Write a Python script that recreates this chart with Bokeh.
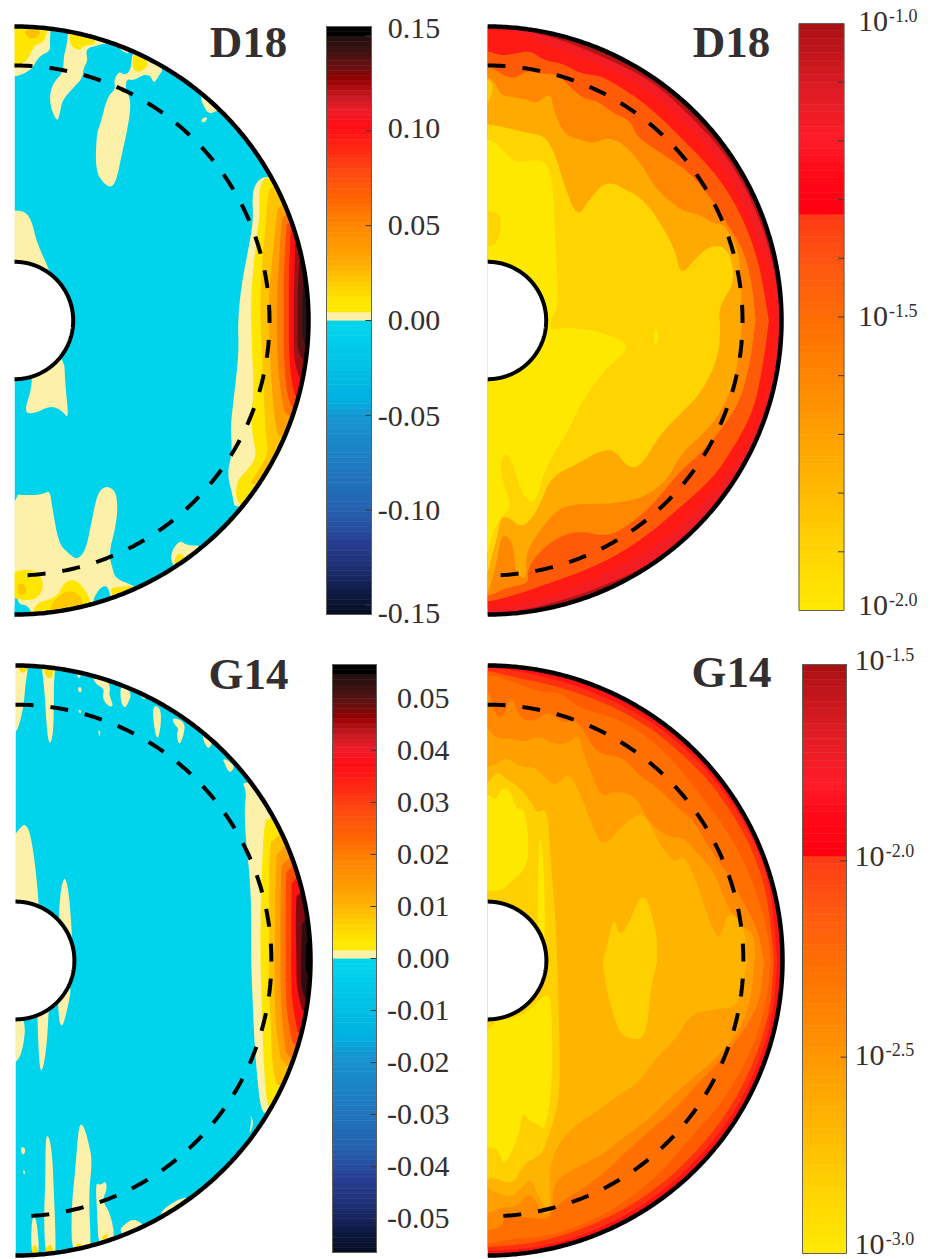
import numpy as np
from bokeh.embed import file_html
from bokeh.resources import INLINE
from bokeh.plotting import figure
from bokeh.layouts import row, column
from bokeh.models import Range1d
from bokeh.core.properties import value

# ---------------- tick labels ----------------
D18_RES_TICKS = [0.15, 0.10, 0.05, 0.00, -0.05, -0.10, -0.15]
D18_RES_LABELS = ["0.15", "0.10", "0.05", "0.00", "-0.05", "-0.10", "-0.15"]
D18_RES_NUDGE = [7, 2, 0, 0, -1, 0, -8]
G14_RES_TICKS = [0.05, 0.04, 0.03, 0.02, 0.01, 0.00, -0.01, -0.02, -0.03, -0.04, -0.05]
G14_RES_LABELS = ["0.05", "0.04", "0.03", "0.02", "0.01", "0.00", "-0.01", "-0.02", "-0.03", "-0.04", "-0.05"]
D18_LOG_MINOR = [-1.1, -1.2, -1.3, -1.4, -1.5, -1.6, -1.7, -1.8, -1.9]
D18_LOG_EXP = [-1.0, -1.5, -2.0]
D18_LOG_LABELS = ["-1.0", "-1.5", "-2.0"]
D18_LOG_NUDGE = [2, 1, 5]
G14_LOG_MINOR = [-2.0, -2.5]
G14_LOG_EXP = [-1.5, -2.0, -2.5, -3.0]
G14_LOG_LABELS = ["-1.5", "-2.0", "-2.5", "-3.0"]
G14_LOG_NUDGE = [4, 4, 2, 9]

# ---------------- colour scales (position, colour) ----------------
DIV_POS = [(0.03, "#ffe800"), (0.06, "#ffe800"), (0.125, "#ffce00"), (0.2, "#ffaa00"), (0.32, "#ff8800"),
           (0.41, "#ff6600"), (0.5, "#ff4a10"), (0.58, "#ff2a14"), (0.66, "#ff0c14"), (0.71, "#f01c28"),
           (0.76, "#c81c24"), (0.82, "#960000"), (0.86, "#6c1010"), (0.92, "#3c1212"), (0.965, "#241010"),
           (0.975, "#000000"), (1.0, "#000000")]
DIV_NEG = [(0.03, "#00d4ec"), (0.27, "#00b0e0"), (0.33, "#1696d2"), (0.51, "#2078bf"), (0.65, "#2560ae"),
           (0.75, "#283f94"), (0.85, "#1c2c70"), (0.92, "#101c48"), (1.0, "#050c22")]
LOG_MAP = [(0.0, "#ffea00"), (0.12, "#ffd000"), (0.24, "#ffb000"), (0.36, "#ff9000"), (0.485, "#ff7000"),
           (0.58, "#ff5a10"), (0.675, "#ff3a14"), (0.681, "#ff0010"), (0.75, "#ff0a18"), (0.8, "#ff1c28"),
           (0.885, "#e01c24"), (0.97, "#b81418"), (1.0, "#a80f12")]
CREAM = "#fdf0a8"
CYAN = "#00d4ec"
INK = "#332f30"
SERIF = "Liberation Serif"

# ---------------- contours ----------------
# Each shape: (colour, points in upper crop, points in lower crop), in 3x crop coordinates of the panel.
A_BLOBS = [
    (CREAM, [(42,40),(160,40),(150,90),(148,130),(150,150),(120,165),(105,185),(95,205),(60,225),(30,228)], []),
    ("#ffe600", [(30,50),(160,50),(140,90),(130,125),(100,135),(90,160),(75,185),(50,195),(30,195)], []),
    ("#ffc000", [(70,85),(125,90),(105,115),(80,112)], []),
    (CREAM, [(205,70),(198,140),(190,165),(188,215),(160,245),(148,280),(150,320),(170,365),(178,340),(185,300),(215,265),(245,235),(250,200),(262,180),(255,145),(290,135),(330,125),(310,80)], []),
    ("#ffe600", [(205,80),(210,140),(240,150),(250,135),(290,130),(270,95)], []),
    (CREAM, [(355,140),(385,150),(385,160),(365,152)], []),
    (CREAM, [(395,150),(392,205),(375,225),(355,212),(340,240),(345,265),(320,290),(300,370),(288,400),(285,510),(310,550),(335,562),(350,530),(362,470),(378,400),(390,330),(388,290),(375,268),(378,235),(400,240),(430,222),(450,225),(460,250),(475,225),(490,205),(450,150)], []),
    ("#ffe600", [(398,155),(395,210),(420,215),(445,195),(430,160)], []),
    (CREAM, [(595,280),(615,330),(630,340),(650,330),(690,320),(650,270)], []),
    (CREAM, [(600,362),(610,350),(622,352),(612,367)], []),
    (CREAM, [(42,630),(70,632),(92,655),(110,730),(150,815),(170,900),(30,900),(30,630)], []),
    (CREAM, [], [(95,100),(95,200),(70,275),(100,280),(150,255),(185,270),(205,297),(195,200),(190,100)]),
    (CREAM, [], [(30,520),(90,525),(130,520),(148,510),(155,560),(175,670),(205,700),(230,718),(255,690),(270,620),(290,520),(315,495),(345,510),(352,560),(345,620),(325,700),(335,740),(345,775),(400,795),(450,830),(420,920),(30,920)]),
    (CYAN, [], [(275,840),(300,800),(320,795),(330,825),(325,870),(285,880)]),
    (CYAN, [], [(30,855),(70,850),(90,865),(95,900),(30,900)]),
    ("#ffe600", [], [(30,755),(90,745),(120,765),(130,800),(110,835),(70,840),(30,830)]),
    ("#ffc800", [], [(48,790),(75,790),(80,820),(55,825)]),
    ("#ffe600", [], [(100,850),(170,830),(190,785),(225,775),(255,810),(270,840),(270,900),(100,900)]),
    ("#ffc800", [], [(150,850),(195,810),(230,815),(250,845),(240,900),(150,890)]),
    ("#ffe600", [], [(330,805),(345,800),(400,795),(420,810),(345,845),(335,825)]),
    (CREAM, [], [(520,680),(540,660),(560,675),(610,675),(560,760),(520,740),(510,710)]),
    ("#ffe600", [], [(520,720),(535,695),(555,710),(540,750),(525,735)]),
]
A_BAND = [
    (CREAM, [(800,525),(770,540),(755,580),(758,650),(752,700),(735,790),(722,860),(712,960)],
            [(715,100),(700,230),(690,320),(695,395),(680,460),(695,520),(705,575)]),
    ("#ffe600", [(800,530),(785,540),(775,580),(778,640),(770,700),(760,790),(752,880),(752,960)],
            [(755,100),(760,210),(752,290),(755,340),(770,410),(735,455),(710,480),(705,530),(725,560)]),
    ("#ffc400", [(810,545),(800,600),(795,680),(785,780),(780,880),(780,960)],
            [(785,120),(790,220),(795,340),(805,400),(760,470),(745,500)]),
    ("#ffa000", [(835,590),(825,680),(815,780),(805,880),(805,960)], [(808,100),(815,220),(825,320),(840,360)]),
    ("#ff7a00", [(850,620),(840,700),(835,800),(830,880),(830,960)], [(830,100),(840,220),(860,310)]),
    ("#ff4a00", [(860,645),(855,720),(850,820),(850,960)], [(850,100),(858,220),(880,280)]),
    ("#ff1010", [(872,660),(868,740),(865,830),(865,960)], [(865,100),(875,200),(890,240)]),
    ("#a01015", [(885,690),(882,800),(880,900),(880,960)], [(880,90),(885,140),(905,190)]),
    ("#5a1010", [(900,740),(892,850),(892,960)], [(890,90),(915,130)]),
    ("#2c1212", [(915,800),(905,880),(905,960)], [(905,50),(925,100)]),
]
B_LEVELS = [
    ("#f21c22", [(20,42),(110,46),(150,64),(250,90),(370,140),(480,192),(560,250),(640,327),(720,412),(800,537),(870,712),(905,930)],
                [(905,100),(875,300),(705,565),(606,664),(506,733),(406,780),(306,820),(206,850),(100,875),(20,885)]),
    ("#ff1a14", [(20,55),(110,62),(200,105),(300,140),(400,180),(500,240),(590,310),(680,410),(760,510),(830,670),(880,820),(890,930)],
                [(882,100),(855,270),(785,400),(705,510),(605,610),(505,690),(405,745),(305,790),(205,830),(100,855),(20,865)]),
    ("#ff5a08", [(20,120),(60,135),(100,130),(150,120),(190,150),(250,160),(300,190),(360,195),(420,230),(480,270),(540,320),(600,380),(660,440),(720,510),(770,590),(810,680),(840,780),(860,900),(865,930)],
                [(865,0),(850,120),(820,270),(760,380),(700,470),(600,560),(500,645),(400,710),(300,755),(200,790),(100,825),(20,845)]),
    ("#ff8800", [(20,160),(60,190),(100,205),(140,180),(180,190),(230,190),(270,230),(310,265),(350,270),(400,310),(450,330),(470,380),(530,420),(590,460),(630,490),(690,560),(740,640),(790,720),(815,820),(825,930)],
                [(825,0),(810,120),(780,240),(720,330),(660,400),(600,450),(520,550),(450,610),(380,650),(300,630),(230,650),(170,700),(140,750),(145,790),(80,800),(20,830)]),
    ("#ffaa00", [(20,195),(50,225),(60,255),(130,265),(170,280),(210,245),(220,300),(250,370),(290,385),(340,400),(380,380),(430,400),(490,470),(520,530),(600,600),(650,610),(700,640),(730,640),(775,720),(780,800),(785,930)],
                [(785,0),(775,120),(745,230),(690,320),(600,400),(560,480),(490,530),(400,550),(290,550),(230,565),(170,640),(135,700),(140,780),(105,760),(100,680),(80,645),(60,650),(50,720),(30,790),(20,830)]),
    ("#ffd400", [(20,340),(70,350),(130,365),(190,375),(220,420),(250,520),(290,625),(330,560),(380,510),(440,540),(480,560),(530,620),(585,720),(600,795),(640,750),(680,710),(730,705),(755,750),(760,820),(720,880),(715,930)],
                [(720,0),(715,110),(660,220),(600,280),(540,340),(480,440),(440,440),(400,385),(350,395),(300,425),(210,470),(180,550),(150,600),(120,620),(85,590),(60,590),(50,650),(35,700),(20,770)]),
    ("#ffe800", [(20,385),(50,400),(100,455),(150,450),(190,450),(215,490),(225,700),(235,885),(210,930)],
                [(210,30),(260,20),(340,30),(400,50),(440,70),(430,100),(370,150),(300,250),(260,340),(200,430),(170,530),(150,550),(120,510),(100,440),(80,395),(60,420),(65,480),(95,560),(60,590),(40,630),(25,680),(20,700)]),
]
B_SPOTS = [
    ("#ffd400", [(0,600),(55,605),(65,640),(50,700),(0,715)], []),
    ("#ffc800", [(0,200),(40,215),(30,270),(0,290)], []),
    ("#ffe800", [], [(525,15),(535,50),(525,80),(518,50)]),
]
C_BLOBS = [
    (CREAM, [(30,35),(85,35),(75,100),(70,160),(60,210),(48,245),(30,250)], []),
    ("#ffe000", [(50,35),(80,35),(80,60),(60,70)], []),
    (CREAM, [(122,40),(165,40),(160,100),(160,170),(158,250),(148,285),(140,250),(135,170),(130,100)], []),
    ("#ffe000", [(128,40),(160,40),(155,85),(135,80)], []),
    (CREAM, [(228,68),(245,65),(235,88)], []),
    (CREAM, [(232,110),(243,110),(243,125),(234,125)], []),
    (CREAM, [(275,75),(320,85),(330,115),(325,130),(340,170),(320,165),(305,140),(312,115),(285,100)], []),
    (CREAM, [(360,100),(395,125),(380,165),(370,172),(360,150)], []),
    (CREAM, [(232,178),(242,178),(240,192)], []),
    (CREAM, [(292,240),(300,240),(298,262)], []),
    (CREAM, [(455,165),(480,170),(482,220),(472,270),(462,240)], []),
    (CREAM, [(515,200),(555,215),(548,260),(535,285),(528,250),(535,235),(520,220)], []),
    (CREAM, [(605,250),(640,265),(625,298),(610,275)], []),
    (CREAM, [(665,320),(705,345),(688,370),(675,345)], []),
    (CREAM, [(415,130),(435,135),(432,150)], []),
    (CREAM, [(30,570),(60,530),(75,520),(90,550),(105,650),(115,760),(120,900),(30,900)], []),
    (CREAM, [(175,760),(190,670),(205,720),(215,860),(215,900),(175,900)], []),
    (CREAM, [], [(30,100),(75,215),(70,280),(55,330),(30,340)]),
    (CREAM, [], [(108,100),(148,100),(140,280),(125,370),(115,340)]),
    (CREAM, [], [(170,100),(215,100),(200,180),(185,232),(175,210)]),
    (CREAM, [], [(60,590),(72,590),(75,605),(65,615)]),
    (CREAM, [], [(66,660),(74,660),(72,675)]),
    (CREAM, [], [(135,560),(145,555),(155,610),(160,720),(165,850),(165,920),(135,920),(130,800),(135,680)]),
    (CREAM, [], [(235,520),(250,525),(265,580),(275,630),(265,730),(270,860),(270,920),(215,920),(212,780),(225,650)]),
    (CREAM, [], [(285,695),(300,705),(315,690),(320,715),(305,750),(330,790),(345,870),(295,900),(290,790)]),
    (CREAM, [], [(362,830),(395,805),(420,815),(440,840),(380,870),(360,845)]),
    (CREAM, [], [(480,785),(510,760),(555,738),(580,750),(480,810)]),
    (CREAM, [], [(750,490),(760,520),(745,555),(752,520)]),
    (CREAM, [], [(93,800),(108,800),(118,920),(92,920)]),
    ("#ffe000", [], [(95,885),(110,885),(115,920),(95,920)]),
    ("#ffe000", [], [(135,890),(155,880),(160,920),(135,920)]),
    ("#ffe000", [], [(225,880),(245,880),(245,900),(225,900)]),
    ("#ffe000", [], [(305,855),(325,850),(320,865),(305,870)]),
]
C_BAND = [
    (CREAM, [(722,385),(738,425),(732,470),(735,560),(752,720),(752,930)], [(755,120),(762,280),(770,380),(780,470),(795,495)]),
    ("#ffe600", [(800,490),(790,540),(785,640),(780,800),(780,930)], [(782,100),(785,200),(790,350),(800,470),(815,470)]),
    ("#ffc000", [(815,530),(805,650),(805,800),(805,930)], [(805,100),(810,200),(815,350),(835,430)]),
    ("#ffa000", [(830,560),(825,700),(822,930)], [(822,100),(825,230),(850,380)]),
    ("#ff7a00", [(845,600),(840,720),(840,930)], [(840,100),(845,220),(865,360)]),
    ("#ff4a00", [(860,620),(855,740),(855,930)], [(855,100),(860,200),(885,320)]),
    ("#ff1010", [(875,650),(872,780),(872,930)], [(872,100),(878,180),(900,280)]),
    ("#800a10", [(890,700),(885,800),(888,930)], [(888,100),(895,140),(910,200)]),
    ("#300c10", [(905,760),(902,930)], [(902,100),(905,120),(925,170)]),
    ("#000000", [(918,850),(915,930)], [(915,60),(935,100)]),
]
D_LEVELS = [
    ("#ff3010", [(23,50),(100,60),(200,80),(300,110),(400,152),(500,205),(600,280),(700,380),(800,525),(870,690),(890,930)],
                [(890,30),(880,180),(835,345),(745,515),(615,665),(495,760),(375,825),(275,865),(150,895),(23,900)]),
    ("#ff5c00", [(23,60),(100,80),(200,100),(300,130),(400,170),(500,225),(600,305),(700,405),(800,560),(860,720),(880,930)],
                [(880,30),(870,180),(820,340),(735,500),(605,650),(485,745),(365,810),(265,850),(150,880),(23,890)]),
    ("#ff7000", [(23,75),(60,80),(110,100),(180,125),(240,125),(300,175),(400,200),(490,250),(570,320),(650,420),(740,540),(810,670),(860,830),(870,930)],
                [(870,30),(860,150),(815,300),(730,450),(650,540),(520,690),(380,790),(260,840),(180,860),(100,865),(23,880)]),
    ("#ff8a00", [(23,110),(40,190),(70,205),(90,125),(120,210),(170,210),(200,180),(250,220),(280,205),(310,240),(350,310),(430,320),(480,380),(530,410),(600,480),(640,510),(690,600),(750,680),(790,760),(830,830),(850,930)],
                [(850,30),(840,150),(790,240),(720,330),(650,400),(590,470),(520,530),(450,590),(380,660),(300,720),(230,760),(200,810),(150,800),(110,800),(80,790),(60,830),(23,840)]),
    ("#ffa000", [(23,230),(45,265),(95,265),(130,275),(180,255),(215,280),(260,280),(295,250),(305,300),(340,390),(365,440),(410,420),(470,440),(500,510),(560,560),(610,560),(660,620),(700,660),(745,780),(790,830),(820,850),(825,930)],
                [(820,30),(815,130),(780,240),(700,330),(640,380),(570,440),(500,510),(430,560),(370,610),(290,650),(220,690),(215,780),(190,800),(150,720),(110,770),(60,770),(23,790)]),
    ("#ffb400", [(23,350),(50,340),(75,320),(105,340),(130,350),(165,350),(210,400),(235,400),(265,365),(300,430),(340,540),(370,590),(430,520),(490,480),(530,570),(580,640),(610,610),(650,700),(700,850),(720,860),(745,780),(790,820),(800,930)],
                [(800,30),(790,90),(770,170),(710,175),(630,190),(590,260),(530,320),(470,400),(420,430),(340,490),(290,520),(240,570),(205,650),(210,790),(175,740),(150,680),(125,710),(90,740),(60,730),(30,720),(23,710)]),
    ("#ffd000", [(23,400),(50,360),(80,390),(105,400),(150,450),(170,490),(200,470),(210,620),(225,800),(230,930)],
                [(230,30),(240,370),(230,480),(190,600),(170,620),(130,640),(100,700),(60,690),(30,680),(23,690)]),
    ("#ffe800", [(23,430),(45,450),(60,420),(85,410),(110,480),(130,470),(145,560),(140,650),(95,690),(65,720),(23,720)], []),
]
D_SPOTS = [
    ("#ffe800", [(175,520),(190,640),(195,900),(170,900)], []),
    ("#ffe800", [], [(0,215),(130,200),(205,115),(215,200),(215,400),(195,540),(170,520),(145,510),(125,480),(115,560),(70,650),(60,610),(40,590),(0,590)]),
    ("#ffd000", [(370,930),(400,790),(415,860),(445,820),(490,710),(530,850),(530,930)],
                [(530,30),(510,120),(500,230),(480,270),(430,260),(410,230),(380,130),(365,30)]),
]

INNER_R = 58.7 / 294
DASH_R = 255 / 294


def crop_points(shape, crop_top, crop_low):
    _, top, low = shape
    px = [crop_top[0] + p[0] / 3 for p in top] + [crop_low[0] + p[0] / 3 for p in low]
    py = [crop_top[1] + p[1] / 3 for p in top] + [crop_low[1] + p[1] / 3 for p in low]
    return px, py


def chaikin(x, y, n=2):
    x, y = np.array(x, float), np.array(y, float)
    for _ in range(n):
        x1, y1 = np.roll(x, -1), np.roll(y, -1)
        x = np.column_stack([0.75 * x + 0.25 * x1, 0.25 * x + 0.75 * x1]).ravel()
        y = np.column_stack([0.75 * y + 0.25 * y1, 0.25 * y + 0.75 * y1]).ravel()
    return x, y


def palette(anchors, f):
    pos = [a[0] for a in anchors]
    rgb = np.array([[int(a[1][i:i + 2], 16) for i in (1, 3, 5)] for a in anchors], float)
    return "#%02x%02x%02x" % tuple(int(round(np.interp(f, pos, rgb[:, k]))) for k in range(3))


def no_grid(p):
    p.xgrid.visible = False
    p.ygrid.visible = False
    p.xaxis.visible = False
    p.yaxis.visible = False
    return p


def panel(width, xleft, x0, cy, R, ytop, ybot, crops, layers, base, title, tx, ty):
    """Half-annulus panel; its data scale has outer radius = 1."""
    p = figure(width=width, height=ybot - ytop, output_backend="svg", toolbar_location=None,
               x_range=Range1d((xleft - x0) / R, (xleft + width - x0) / R),
               y_range=Range1d((cy - ybot) / R, (cy - ytop) / R),
               min_border=0, outline_line_color=None, background_fill_color="white", border_fill_color="white")
    no_grid(p)
    t = np.radians(np.linspace(90, -90, 361))
    ox, oy = np.cos(t), np.sin(t)
    p.patch(np.r_[0, ox, 0], np.r_[1, oy, -1], fill_color=base, line_color=None)
    for kind, shapes in layers:
        for s in shapes:
            px, py = crop_points(s, crops[0], crops[1])
            if kind == "axis":      # closes along the polar axis, on the left
                px = [x0 - 20] + px + [x0 - 20]
                py = [py[0]] + py + [py[-1]]
            elif kind == "rim":     # closes outside the rim, on the right
                px = px + [x0 + 1.3 * R, x0 + 1.3 * R]
                py = py + [py[-1], py[0]]
            sx, sy = chaikin(px, py)
            p.patch((sx - x0) / R, (cy - sy) / R, fill_color=s[0], line_color=None)
    # white outside the rim, left of the axis and inside the hole
    big = 3.0
    p.patch(np.r_[ox, 0, big, big, 0], np.r_[oy, -big, -big, big, big], fill_color="white", line_color=None)
    p.quad(left=[-1], right=[0], bottom=[-big], top=[big], fill_color="white", line_color=None)
    p.patch(np.r_[INNER_R * ox, -0.5, -0.5], np.r_[INNER_R * oy, -INNER_R, INNER_R], fill_color="white", line_color=None)
    p.line(ox, oy, line_color="black", line_width=4.5)
    p.line(INNER_R * ox, INNER_R * oy, line_color="black", line_width=4)
    p.line(DASH_R * ox, DASH_R * oy, line_color="black", line_width=4, line_dash="18 17")
    p.text([(tx - x0) / R], [(cy - ty) / R], text=[title], text_font=value(SERIF), text_font_style="bold",
           text_font_size="45px", text_color=INK, text_align="center", text_baseline="middle")
    return p


def bar_fig(width, height, pad, bar_w, y_low, y_high, y_type="linear"):
    p = figure(width=width, height=height, output_backend="svg", toolbar_location=None, y_axis_type=y_type,
               x_range=Range1d(-pad / bar_w, (width - pad) / bar_w), y_range=Range1d(y_low, y_high),
               min_border=0, outline_line_color=None, background_fill_color="white", border_fill_color="white")
    return no_grid(p)


def res_bar(width, pad, bar_w, ytop, ybot, b_top, b_bot, vmax, ticks, labels, nudges, right_x):
    per_px = 2 * vmax / (b_bot - b_top)
    p = bar_fig(width, ybot - ytop, pad, bar_w, -vmax - (ybot - b_bot) * per_px, vmax + (b_top - ytop) * per_px)
    n = 60
    e = np.linspace(0, 1, n + 1)
    c = 0.5 * (e[:-1] + e[1:])
    pos = [palette(DIV_POS, f) for f in c]
    neg = [palette(DIV_NEG, f) for f in c]
    p.quad(left=0, right=1, bottom=e[:-1] * vmax, top=e[1:] * vmax, fill_color=pos, line_color=pos, line_width=0.6)
    p.quad(left=0, right=1, bottom=-e[1:] * vmax, top=-e[:-1] * vmax, fill_color=neg, line_color=neg, line_width=0.6)
    p.quad(left=[0], right=[1], bottom=[0], top=[0.028 * vmax], fill_color=CREAM, line_color=None)
    p.quad(left=[0], right=[1], bottom=[-vmax], top=[vmax], fill_color=None, line_color="#5f5f58", line_width=1)
    tick_len = 6 / bar_w
    p.segment(x0=[1 - tick_len] * len(ticks), x1=[1] * len(ticks), y0=ticks, y1=ticks, line_color="#3a3a3a", line_width=1)
    p.text([right_x] * len(ticks), ticks, text=labels, y_offset=[-n_ for n_ in nudges], text_font=value(SERIF),
           text_font_size="30px", text_color=INK, text_align="right", text_baseline="middle")
    return p


def log_bar(width, pad, bar_w, ytop, ybot, b_top, b_bot, lo, hi, minor, exps, labels, nudges, ten_x, exp_x):
    per_px = (hi - lo) / (b_bot - b_top)
    p = bar_fig(width, ybot - ytop, pad, bar_w, 10.0 ** (lo - (ybot - b_bot) * per_px),
                10.0 ** (hi + (b_top - ytop) * per_px), y_type="log")
    n = 80
    e = np.linspace(0, 1, n + 1)
    c = 0.5 * (e[:-1] + e[1:])
    cols = [palette(LOG_MAP, f) for f in c]
    p.quad(left=0, right=1, bottom=10.0 ** (lo + e[:-1] * (hi - lo)), top=10.0 ** (lo + e[1:] * (hi - lo)),
           fill_color=cols, line_color=cols, line_width=0.6)
    p.quad(left=[0], right=[1], bottom=[10.0 ** lo], top=[10.0 ** hi], fill_color=None, line_color="#5f5f58", line_width=1)
    tick_len = 6 / bar_w
    ym = [10.0 ** m for m in minor]
    p.segment(x0=[1 - tick_len] * len(ym), x1=[1] * len(ym), y0=ym, y1=ym, line_color="#3a3a3a", line_width=1)
    ye = [10.0 ** v for v in exps]
    p.text([ten_x] * len(ye), ye, text=["10"] * len(ye), y_offset=[-n_ for n_ in nudges], text_font=value(SERIF),
           text_font_size="30px", text_color=INK, text_align="left", text_baseline="middle")
    p.text([exp_x] * len(ye), ye, text=labels, y_offset=[-n_ - 6 for n_ in nudges], text_font=value(SERIF),
           text_font_size="18px", text_color=INK, text_align="left", text_baseline="middle")
    return p


R1 = (0, 632)
R2 = (632, 1259)

pa = panel(324, 0, 14, 320, 294, R1[0], R1[1], ((0, 0), (0, 320)),
           [("free", A_BLOBS), ("rim", A_BAND)], CYAN, "D18", 248, 41)
ca = res_bar(163, 2, 45, R1[0], R1[1], 26, 614, 0.155, D18_RES_TICKS, D18_RES_LABELS, D18_RES_NUDGE, 2.53)
pb = panel(309, 487, 487, 320, 294, R1[0], R1[1], ((480, 10), (480, 320)),
           [("axis", B_LEVELS), ("free", B_SPOTS)], "#b01518", "D18", 731, 41)
cb = log_bar(134, 2.5, 45, R1[0], R1[1], 23, 610, -2.0, -1.0, D18_LOG_MINOR, D18_LOG_EXP, D18_LOG_LABELS,
             D18_LOG_NUDGE, 1.31, 2.0)
pc = panel(330, 0, 15, 960, 295, R2[0], R2[1], ((0, 650), (0, 950)),
           [("free", C_BLOBS), ("rim", C_BAND)], CYAN, "G14", 248, 673)
cc = res_bar(157, 2, 44, R2[0], R2[1], 664, 1252, 0.0565, G14_RES_TICKS, G14_RES_LABELS, [0] * 11, 2.66)
pd_ = panel(313, 487, 487, 960, 295, R2[0], R2[1], ((480, 650), (480, 950)),
            [("axis", D_LEVELS), ("free", D_SPOTS)], "#ff1414", "G14", 731, 671)
cd = log_bar(130, 2, 44, R2[0], R2[1], 664, 1253, -3.0, -1.5, G14_LOG_MINOR, G14_LOG_EXP, G14_LOG_LABELS,
             G14_LOG_NUDGE, 1.18, 1.89)

layout = column(row(pa, ca, pb, cb), row(pc, cc, pd_, cd))
open("out.html", "w").write(file_html(layout, INLINE))
